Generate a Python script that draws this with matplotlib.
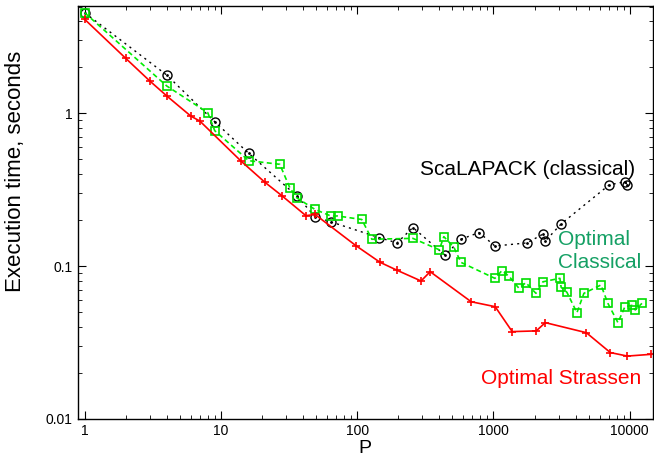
import matplotlib
matplotlib.use('Agg')
import matplotlib.pyplot as plt
from matplotlib.ticker import LogLocator, NullFormatter, FixedLocator, FixedFormatter

plt.rcParams['font.family'] = ['Liberation Sans', 'DejaVu Sans']

# Optimal Strassen (CAPS)
p_strassen = [1, 2, 3, 4, 6, 7, 14, 21, 28, 42, 49, 98, 147, 196, 294, 343,
              686, 1029, 1372, 2058, 2401, 4802, 7203, 9604, 14406]
t_strassen = [4.12, 2.29, 1.63, 1.30, 0.96, 0.89, 0.488, 0.354, 0.289, 0.214, 0.218,
              0.136, 0.106, 0.094, 0.080, 0.092, 0.0585, 0.0543, 0.0373, 0.0377,
              0.0427, 0.0367, 0.0272, 0.0258, 0.0265]

# Optimal classical (2.5D)
p_classical = [1, 4, 8, 9, 16, 27, 32, 36, 49, 64, 72, 108, 128, 256, 400, 432,
               512, 576, 1024, 1152, 1296, 1536, 1728, 2048, 2304, 3072, 3136,
               3456, 4096, 4608, 6144, 6912, 8192, 9216, 10368, 10976, 12288]
t_classical = [4.55, 1.51, 1.01, 0.77, 0.49, 0.464, 0.326, 0.28, 0.235, 0.213, 0.213,
               0.202, 0.15, 0.152, 0.128, 0.156, 0.133, 0.106, 0.0832, 0.0934,
               0.0862, 0.0717, 0.078, 0.0664, 0.079, 0.0833, 0.0727, 0.0675,
               0.0496, 0.0664, 0.0753, 0.0571, 0.0427, 0.0543, 0.0554, 0.0517, 0.0571]

# ScaLAPACK
p_scalapack = [1, 4, 9, 16, 36, 49, 64, 144, 196, 256, 441, 576, 784, 1024,
               1764, 2304, 2401, 3136, 7056, 9216, 9604]
t_scalapack = [4.55, 1.78, 0.881, 0.547, 0.288, 0.211, 0.195, 0.154, 0.142, 0.179,
               0.118, 0.15, 0.166, 0.1355, 0.142, 0.162, 0.146, 0.189, 0.34, 0.357, 0.34]

x_ticks = [1, 10, 100, 1000, 10000]
x_ticklabels = ['1', '10', '100', '1000', '10000']
y_ticks = [0.01, 0.1, 1]
y_ticklabels = ['0.01', '0.1', '1']

fig = plt.figure(figsize=(6.54, 4.58), dpi=100)
ax = fig.add_axes([0.1187, 0.0852, 0.8803, 0.9017])

ax.plot(p_scalapack, t_scalapack, color='black', linestyle=(0, (1.5, 3)), linewidth=1,
        marker='o', markersize=6.5, markerfacecolor='none', markeredgecolor='black',
        markeredgewidth=1)
ax.plot(p_scalapack, t_scalapack, linestyle='none', marker='.', markersize=2, color='black')
ax.plot(p_classical, t_classical, color='#00ee00', linestyle=(0, (3, 2)), linewidth=1.2,
        marker='s', markersize=6, markerfacecolor='none', markeredgecolor='#00dd00',
        markeredgewidth=1.2)
ax.plot(p_strassen, t_strassen, color='#ff0000', linestyle='-', linewidth=1.2,
        marker='+', markersize=6, markeredgewidth=1.2)

ax.set_xscale('log')
ax.set_yscale('log')
ax.set_xlim(0.887, 14900)
ax.set_ylim(0.01, 5.04)

ax.xaxis.set_major_locator(FixedLocator(x_ticks))
ax.xaxis.set_major_formatter(FixedFormatter(x_ticklabels))
ax.yaxis.set_major_locator(FixedLocator(y_ticks))
ax.yaxis.set_major_formatter(FixedFormatter(y_ticklabels))
ax.xaxis.set_minor_locator(LogLocator(base=10, subs=range(2, 10)))
ax.yaxis.set_minor_locator(LogLocator(base=10, subs=range(2, 10)))
ax.xaxis.set_minor_formatter(NullFormatter())
ax.yaxis.set_minor_formatter(NullFormatter())
ax.tick_params(which='both', direction='in', top=True, right=True, labelsize=10)
ax.tick_params(which='major', length=6)
ax.tick_params(which='minor', length=3)
for s in ax.spines.values():
    s.set_linewidth(1)

ax.set_xlabel('P', fontsize=14)
ax.xaxis.set_label_coords(0.499, -0.052)
ax.set_ylabel('Execution time, seconds', fontsize=16)
ax.yaxis.set_label_coords(-0.09, 0.6)

ax.text(287, 0.432, 'ScaLAPACK (classical)', fontsize=15, color='black', va='center')
ax.text(2980, 0.1486, 'Optimal', fontsize=15, color='#14a064', va='center')
ax.text(2980, 0.105, 'Classical', fontsize=15, color='#14a064', va='center')
ax.text(12200, 0.0185, 'Optimal Strassen', fontsize=15, color='#ff0000', va='center', ha='right')

fig.savefig('out.png', dpi=100)
